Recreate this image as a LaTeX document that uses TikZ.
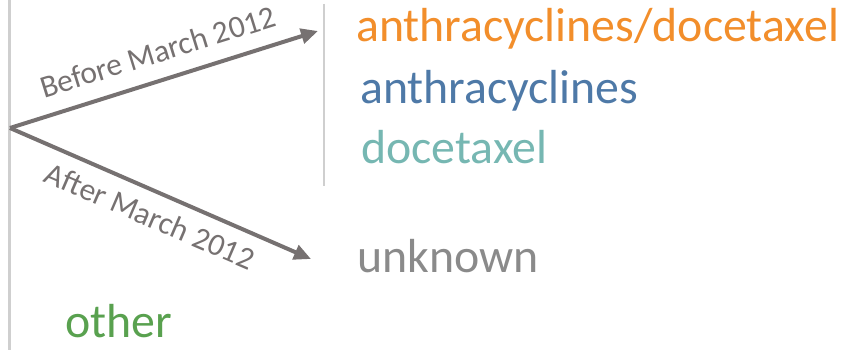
\documentclass[tikz,border=0pt]{standalone}
\usepackage{fontspec}
\setmainfont{Carlito}
\usetikzlibrary{arrows.meta}

\definecolor{arrowgray}{HTML}{767171}
\definecolor{rulegray}{HTML}{CFCFCF}
\definecolor{orangeT}{HTML}{F28E2B}
\definecolor{blueT}{HTML}{4E79A7}
\definecolor{tealT}{HTML}{76B7B2}
\definecolor{grayT}{HTML}{8A8A8A}
\definecolor{greenT}{HTML}{59A14F}

\begin{document}
\begin{tikzpicture}[x=1pt,y=-1pt,
  drug/.style={anchor=base west,inner sep=0pt,font=\fontsize{47.8}{50}\selectfont},
  period/.style={anchor=base,inner sep=0pt,text=arrowgray,font=\fontsize{31.5}{34}\selectfont},
  branch/.style={draw=arrowgray,line width=4pt,-{Triangle[length=17pt,width=15pt]}}]
  \useasboundingbox (0,0) rectangle (848,350);
  \draw[rulegray,line width=3pt] (9,0) -- (9,350);
  \draw[rulegray,line width=2.5pt] (324,4) -- (324,186);
  \coordinate (root) at (10,128);
  \coordinate (before) at (318,31);
  \coordinate (after) at (311,259);
  \draw[branch] (root) -- (before);
  \draw[branch] (root) -- (after);
  \node[period,rotate=17.2] (beforelbl) at (161,62) {Before March 2012};
  \node[period,rotate=-23.3] (afterlbl) at (146,226) {After March 2012};
  \node[drug,text=orangeT] (both) at (356,42) {anthracyclines/docetaxel};
  \node[drug,text=blueT] (anthra) at (360,103) {anthracyclines};
  \node[drug,text=tealT] (doce) at (361,163) {docetaxel};
  \node[drug,text=grayT] (unknown) at (357,272) {unknown};
  \node[drug,text=greenT] (other) at (65,337) {other};
\end{tikzpicture}
\end{document}
